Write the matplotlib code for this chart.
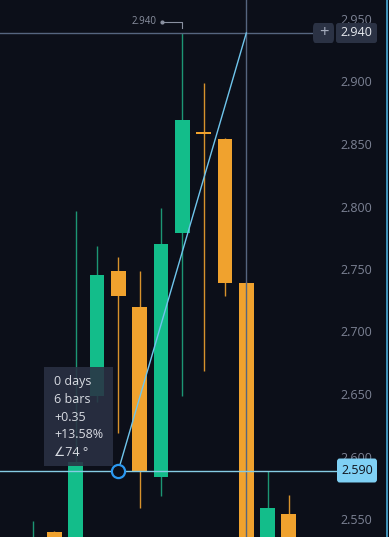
import numpy as np
import matplotlib
matplotlib.use("Agg")
from matplotlib import pyplot as plt
from matplotlib.patches import FancyBboxPatch, Circle
from matplotlib.transforms import blended_transform_factory

plt.rcParams['font.family'] = ['Open Sans', 'DejaVu Sans']

# candles (index 0..12), prices
opens  = [2.500, 2.5408, 2.500, 2.650, 2.750, 2.721, 2.585, 2.780, 2.8605, 2.855, 2.740, 2.500, 2.5552]
highs  = [2.550, 2.5415, 2.798, 2.770, 2.761, 2.750, 2.800, 2.940, 2.900, 2.856, 2.741, 2.590, 2.5704]
lows   = [2.490, 2.500, 2.490, 2.645, 2.620, 2.560, 2.570, 2.650, 2.670, 2.7296, 2.490, 2.490, 2.490]
closes = [2.535, 2.510, 2.597, 2.746, 2.7296, 2.589, 2.771, 2.870, 2.859, 2.740, 2.500, 2.560, 2.500]

yticks = [2.550, 2.600, 2.650, 2.700, 2.750, 2.800, 2.850, 2.900, 2.950]
level_hi = 2.940
level_lo = 2.590
trend_start = 4
trend_end = 10
info = ["0 days", "6 bars", "+0.35", "+13.58%", "∠74 °"]

bg = '#0c0f19'
up = '#13bd8a'
down = '#f0a22e'
up_wick = '#1c9674'
down_wick = '#d8922c'

W, H = 389, 537
fig = plt.figure(figsize=(W/100, H/100), dpi=100, facecolor=bg)
ax = fig.add_axes([0, 0, 1, 1], facecolor=bg)
step = 21.33
x0 = 33
ax.set_xlim(-x0/step, (W - x0)/step)
ax.set_ylim(2.9 - (H - 83)/1250, 2.9 + 83/1250)
ax.axis('off')

def px(p):
    return (p - x0)/step

idx = np.arange(len(opens))
for i in idx:
    o, c = opens[i], closes[i]
    col = up if c >= o else down
    wc = up_wick if c >= o else down_wick
    ax.vlines(i, lows[i], highs[i], color=wc, lw=1, zorder=2)
    h = max(abs(c - o), 0.0016)
    ax.bar(i, h, bottom=min(o, c), width=0.7, color=col, zorder=3)

# y axis labels
tr = blended_transform_factory(ax.transAxes, ax.transData)
for t in yticks:
    ax.text(372/W, t, f"{t:.3f}", transform=tr, ha='right', va='center',
            color='#7c8294', fontsize=9, zorder=1)

# crosshair
cross = '#56657f'
ax.plot([px(0), px(313)], [level_hi, level_hi], color=cross, lw=1, zorder=5)
ax.axvline(trend_end, color=cross, lw=1, zorder=5)
ax.axvline(px(387), color='#4fb0dc', lw=1.2, zorder=6)

# lower level line
ax.plot([px(0), px(337)], [level_lo, level_lo], color='#86cce4', lw=1, zorder=5)

# trend line
ax.plot([trend_start, trend_end], [level_lo, level_hi], color='#6fc5ec', lw=1, zorder=6)
ax.scatter([trend_start], [level_lo], s=90, facecolor=bg, edgecolor='#2b98f0',
           linewidths=1.6, zorder=8)

# high marker on top
hi_i = int(np.argmax(highs))
ax.plot([px(162), hi_i, hi_i], [2.9 + 61/1250, 2.9 + 61/1250, 2.9 + 55/1250],
        color='#8a90a0', lw=0.8, zorder=6)
ax.scatter([px(162)], [2.9 + 61/1250], s=4, color='#8a90a0', zorder=6)
ax.text(px(157), 2.9 + 61/1250, f"{highs[hi_i]:.3f}", ha='right', va='center',
        color='#8a90a0', fontsize=7, zorder=6)

# price boxes
def box(xl, xr, yc, hpx, fc, txt, tc, fs=9):
    hh = hpx/1250
    p = FancyBboxPatch((px(xl), yc - hh/2), px(xr) - px(xl), hh,
                       boxstyle='round,pad=0,rounding_size=0.12',
                       mutation_aspect=hh/(px(xr) - px(xl))*2,
                       facecolor=fc, edgecolor='none', zorder=9)
    ax.add_patch(p)
    ax.text((px(xl) + px(xr))/2, yc, txt, ha='center', va='center',
            color=tc, fontsize=fs, zorder=10)

box(336, 377, level_hi, 20, '#2b3244', f"{level_hi:.3f}", '#e8ebf0')
box(313, 334, level_hi, 20, '#2b3244', "+", '#a8afbf', fs=12)
box(337, 377, level_lo, 24, '#7fd0f4', f"{level_lo:.3f}", '#10131c')

# info box
ib = FancyBboxPatch((px(44), 2.9 - (466 - 83)/1250), px(113) - px(44), 99/1250,
                    boxstyle='square,pad=0', facecolor='#2a3144', alpha=0.88,
                    edgecolor='none', zorder=7)
ax.add_patch(ib)
for k, s in enumerate(info):
    ax.text(px(54), 2.9 - (382 + 17.6*k - 83)/1250, s, ha='left', va='center',
            color='#d8dbe2', fontsize=9, zorder=8)

fig.savefig('out.png', dpi=100, facecolor=bg)
